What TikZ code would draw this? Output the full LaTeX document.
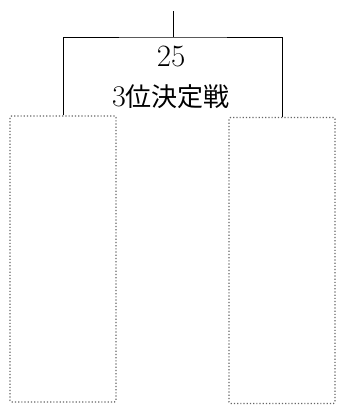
\documentclass[tikz,border=0pt]{standalone}
\usepackage{fontspec}
\newfontfamily\jpfont{Noto Sans CJK JP}
\usetikzlibrary{positioning}
\tikzset{
  slot/.style={draw=black!60,dotted,line width=1.2pt,rounded corners=1.5pt,
    minimum width=106pt,minimum height=286pt,inner sep=0pt},
  matchlabel/.style={align=center,inner sep=0pt,font=\fontsize{26}{40}\selectfont}
}
\begin{document}
\begin{tikzpicture}[x=1pt,y=-1pt]
\useasboundingbox (0,0) rectangle (338,405);
\node[slot] (left) at (63,259) {};
\node[slot] (right) at (282,260.5) {};
\node[matchlabel] (match) at (171,77) {{\fontsize{31}{40}\selectfont 25}\\{\fontsize{30}{40}\selectfont 3}{\jpfont 位決定戦}};
\coordinate (top) at (173,11);
\coordinate (join) at (173,37);
\draw[line width=0.9pt] (top) -- (join);
\draw[line width=0.9pt] (left.north) |- (join) -| (right.north);
\end{tikzpicture}
\end{document}
